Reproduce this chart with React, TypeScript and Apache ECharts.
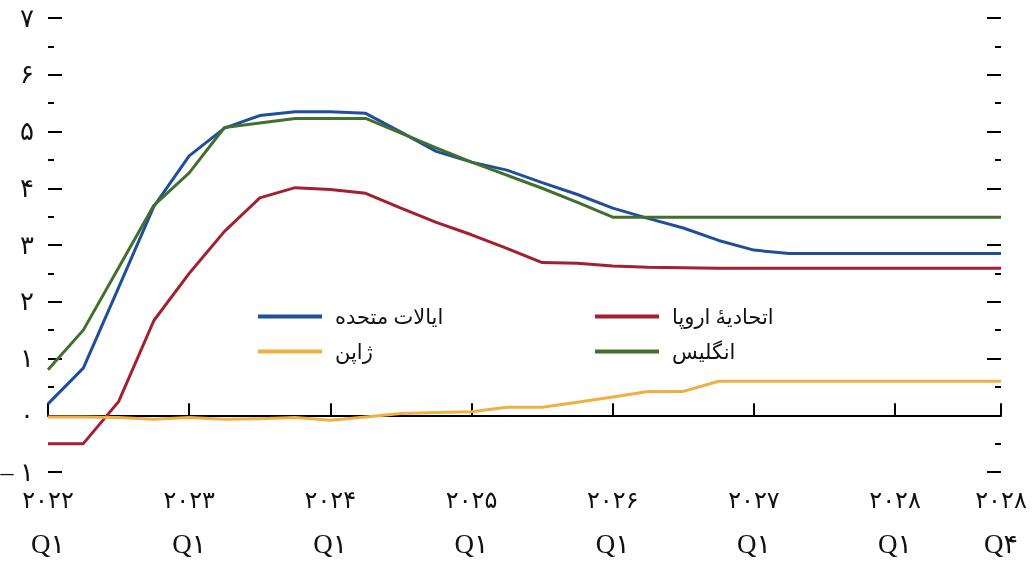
import React, { useEffect, useRef } from "react";
import * as echarts from "echarts";

const quarters: string[] = [
  "۲۰۲۲ Q۱", "۲۰۲۲ Q۲", "۲۰۲۲ Q۳", "۲۰۲۲ Q۴",
  "۲۰۲۳ Q۱", "۲۰۲۳ Q۲", "۲۰۲۳ Q۳", "۲۰۲۳ Q۴",
  "۲۰۲۴ Q۱", "۲۰۲۴ Q۲", "۲۰۲۴ Q۳", "۲۰۲۴ Q۴",
  "۲۰۲۵ Q۱", "۲۰۲۵ Q۲", "۲۰۲۵ Q۳", "۲۰۲۵ Q۴",
  "۲۰۲۶ Q۱", "۲۰۲۶ Q۲", "۲۰۲۶ Q۳", "۲۰۲۶ Q۴",
  "۲۰۲۷ Q۱", "۲۰۲۷ Q۲", "۲۰۲۷ Q۳", "۲۰۲۷ Q۴",
  "۲۰۲۸ Q۱", "۲۰۲۸ Q۲", "۲۰۲۸ Q۳", "۲۰۲۸ Q۴",
];

const yTickLabels: Record<string, string> = {
  "-1": "– ۱", "0": "۰", "1": "۱", "2": "۲", "3": "۳",
  "4": "۴", "5": "۵", "6": "۶", "7": "۷",
};

const names = ["ایالات متحده", "اتحادیهٔ اروپا", "ژاپن", "انگلیس"];

const usRates = [0.2, 0.83, 2.25, 3.68, 4.57, 5.06, 5.28, 5.35, 5.35, 5.32, 4.99, 4.65, 4.46, 4.32, 4.1, 3.89, 3.65, 3.47, 3.3, 3.08, 2.91, 2.85, 2.85, 2.85, 2.85, 2.85, 2.85, 2.85];
const euRates = [-0.5, -0.5, 0.24, 1.67, 2.5, 3.24, 3.83, 4.01, 3.98, 3.91, 3.65, 3.4, 3.18, 2.94, 2.69, 2.68, 2.63, 2.61, 2.6, 2.59, 2.59, 2.59, 2.59, 2.59, 2.59, 2.59, 2.59, 2.59];
const jpRates = [-0.03, -0.03, -0.04, -0.07, -0.04, -0.07, -0.06, -0.04, -0.09, -0.03, 0.03, 0.05, 0.06, 0.14, 0.14, 0.23, 0.32, 0.42, 0.42, 0.6, 0.6, 0.6, 0.6, 0.6, 0.6, 0.6, 0.6, 0.6];
const ukRates = [0.8, 1.5, 2.6, 3.7, 4.27, 5.07, 5.15, 5.23, 5.23, 5.23, 4.97, 4.71, 4.46, 4.23, 4.0, 3.75, 3.49, 3.49, 3.49, 3.49, 3.49, 3.49, 3.49, 3.49, 3.49, 3.49, 3.49, 3.49];

const colors = ["#1f4f9b", "#a2202f", "#efb041", "#41702e"];

const FONT = "'Liberation Serif', 'DejaVu Serif', 'DejaVu Sans', serif";

const showIdx = (i: number) => i % 4 === 0 || i === quarters.length - 1;

export default function App() {
  const ref = useRef<HTMLDivElement>(null);
  useEffect(() => {
    document.body.style.margin = "0";
    if (!ref.current) return;
    const chart = echarts.init(ref.current, undefined, { renderer: "svg" });
    const data = [usRates, euRates, jpRates, ukRates];
    const series: any[] = names.map((n, k) => ({
      name: n,
      type: "line",
      data: data[k],
      showSymbol: false,
      symbol: "none",
      lineStyle: { color: colors[k], width: 3 },
      itemStyle: { color: colors[k] },
      z: 3 + k,
    }));
    series[2].markLine = {
      silent: true,
      symbol: ["none", "none"],
      label: { show: false },
      lineStyle: { color: "#000", width: 2, type: "solid" },
      data: [{ yAxis: 0 }],
      z: 2,
    };
    const legendCommon = {
      orient: "vertical",
      icon: "rect",
      itemWidth: 64,
      itemHeight: 4,
      itemGap: 14,
      textStyle: { fontFamily: FONT, fontSize: 21, color: "#111", padding: [0, 0, 0, 8] },
    };
    chart.setOption({
      animation: false,
      grid: { left: 48, right: 31, top: 18, bottom: 110, outerBoundsMode: "none" },
      legend: [
        { ...legendCommon, left: 253, top: 301, data: [names[0], names[2]] },
        { ...legendCommon, left: 590, top: 301, data: [names[1], names[3]] },
      ],
      xAxis: {
        type: "category",
        data: quarters,
        boundaryGap: false,
        axisLine: { show: true, lineStyle: { color: "#000", width: 2 } },
        axisTick: {
          show: true,
          inside: true,
          length: 12,
          interval: (i: number) => showIdx(i),
          lineStyle: { color: "#000", width: 2 },
        },
        axisLabel: {
          interval: (i: number) => showIdx(i),
          formatter: (v: string) => {
            const [y, q] = v.split(" ");
            return "{y|" + y + "}\n{q|" + q + "}";
          },
          rich: {
            y: { fontFamily: FONT, fontSize: 24, lineHeight: 44, color: "#111" },
            q: { fontFamily: FONT, fontSize: 27, lineHeight: 44, color: "#111" },
          },
          color: "#111",
          margin: 6,
        },
        splitLine: { show: false },
      },
      yAxis: [
        {
          type: "value",
          min: -1,
          max: 7,
          interval: 1,
          position: "left",
          axisLine: { show: false },
          axisTick: { show: true, inside: true, length: 14, lineStyle: { color: "#000", width: 2 } },
          minorTick: { show: true, splitNumber: 2, length: 6, lineStyle: { color: "#000", width: 2 } },
          axisLabel: {
            formatter: (v: number) => yTickLabels[String(v)] ?? "",
            fontFamily: FONT,
            fontSize: 26,
            color: "#111",
            margin: 14,
          },
          splitLine: { show: false },
        },
        {
          type: "value",
          min: -1,
          max: 7,
          interval: 1,
          position: "right",
          axisLine: { show: false },
          axisTick: { show: true, inside: true, length: 14, lineStyle: { color: "#000", width: 2 } },
          minorTick: { show: true, splitNumber: 2, length: 6, lineStyle: { color: "#000", width: 2 } },
          axisLabel: { show: false },
          splitLine: { show: false },
        },
      ],
      series,
    });
    return () => chart.dispose();
  }, []);
  return <div ref={ref} style={{ position: "fixed", left: 0, top: 0, width: 1032, height: 582 }} />;
}
